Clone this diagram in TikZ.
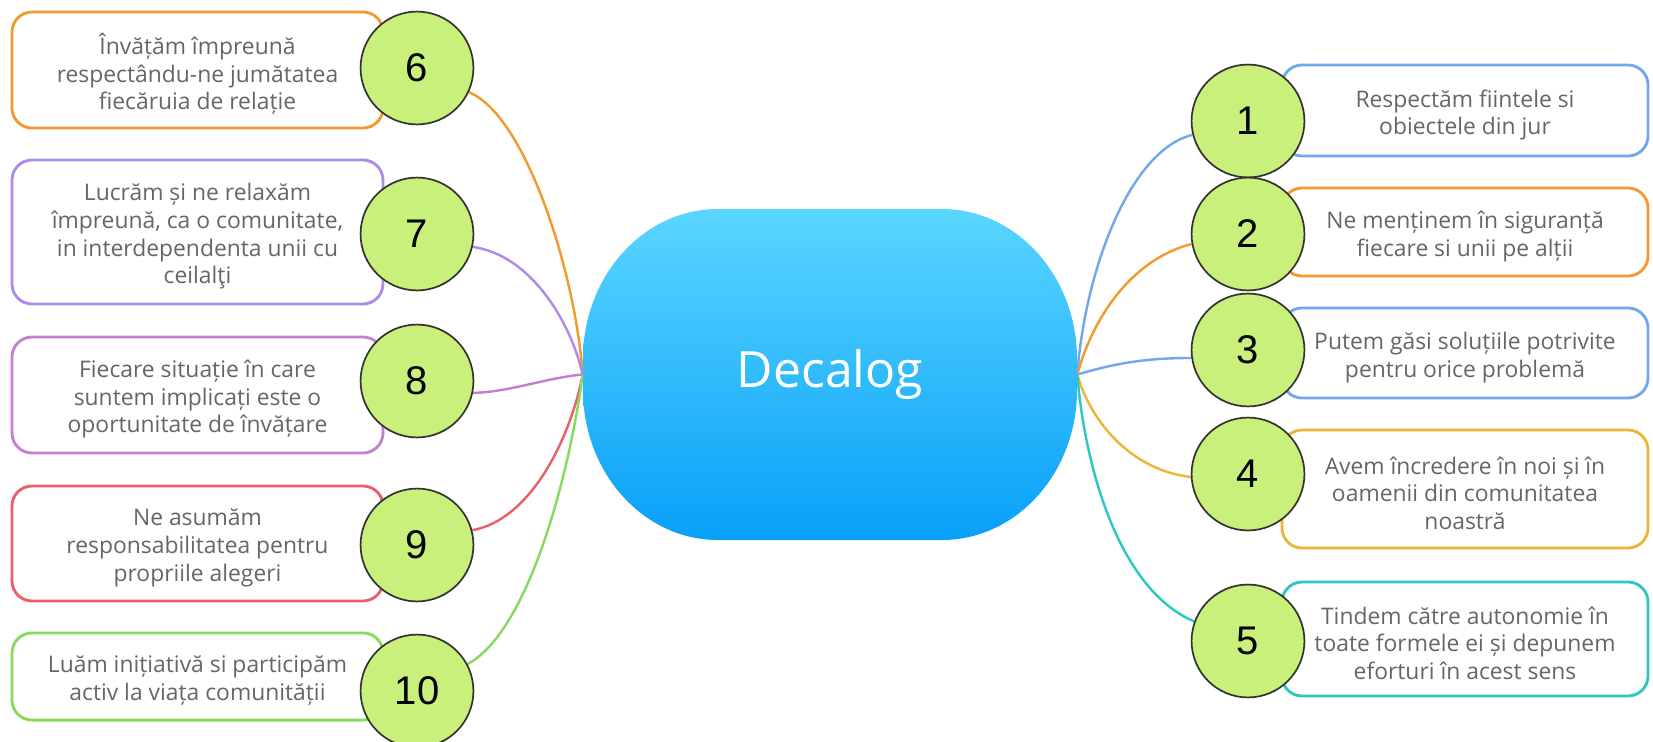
\documentclass[tikz,border=0pt]{standalone}
\usepackage{fontspec}
\setmainfont{Open Sans}
\newfontfamily\arialf{Liberation Sans}
\usetikzlibrary{backgrounds}
\definecolor{txtgray}{HTML}{666666}
\definecolor{corange}{HTML}{F29A2E}
\definecolor{cpurple}{HTML}{AE8BE6}
\definecolor{cviolet}{HTML}{C47FD0}
\definecolor{cred}{HTML}{E8606A}
\definecolor{cgreen}{HTML}{86DB5E}
\definecolor{cblue}{HTML}{72A7EE}
\definecolor{cyellow}{HTML}{EDB535}
\definecolor{cteal}{HTML}{2CC9C0}
\definecolor{cfill}{HTML}{C8F07A}
\definecolor{ctop}{HTML}{5AD6FF}
\definecolor{cbot}{HTML}{08A0F8}
\tikzset{
  boxnode/.style={draw=#1, line width=2pt, rounded corners=14pt, fill=white,
    inner sep=0pt},
  boxtext/.style={text=txtgray, align=center, inner sep=0pt, yshift=-3pt,
    font=\fontsize{16}{19.3}\selectfont},
  numnode/.style={circle, draw=black!80, line width=1.2pt, fill=cfill,
    minimum size=79pt, inner sep=0pt, font=\arialf\fontsize{28}{28}\selectfont},
  link/.style={draw=#1, line width=1.7pt},
}
\begin{document}
\begin{tikzpicture}[x=0.7pt,y=-0.7pt]
\useasboundingbox (0,0) rectangle (1653,741);
% central node
\shade[top color=ctop, bottom color=cbot]
  (718,209) -- (942,209)
  arc[start angle=90, end angle=0, x radius=94.5pt, y radius=105pt]
  -- (1077,390)
  arc[start angle=0, end angle=-90, x radius=94.5pt, y radius=105pt]
  -- (718,540)
  arc[start angle=-90, end angle=-180, x radius=94.5pt, y radius=105pt]
  -- (583,359)
  arc[start angle=180, end angle=90, x radius=94.5pt, y radius=105pt]
  -- cycle;
\node[minimum width=345.8pt, minimum height=231.7pt, inner sep=0pt, text=white,
  font=\fontsize{35}{35}\selectfont] (center) at (830,374.5) {Decalog};
% left boxes
\node[boxnode=corange, minimum width=259.7pt, minimum height=81.2pt,
  label={[boxtext]center:{Învățăm împreună\\respectându-ne jumătatea\\fiecăruia de relație}}] (b6) at (197.5,70) {};
\node[boxnode=cpurple, minimum width=259.7pt, minimum height=100.8pt,
  label={[boxtext]center:{Lucrăm și ne relaxăm\\împreună, ca o comunitate,\\in interdependenta unii cu\\ceilalţi}}] (b7) at (197.5,232) {};
\node[boxnode=cviolet, minimum width=259.7pt, minimum height=81.2pt,
  label={[boxtext]center:{Fiecare situație în care\\suntem implicați este o\\oportunitate de învățare}}] (b8) at (197.5,395) {};
\node[boxnode=cred, minimum width=259.7pt, minimum height=80.5pt,
  label={[boxtext]center:{Ne asumăm\\responsabilitatea pentru\\propriile alegeri}}] (b9) at (197.5,543.5) {};
\node[boxnode=cgreen, minimum width=259.7pt, minimum height=61pt,
  label={[boxtext]center:{Luăm inițiativă si participăm\\activ la viața comunității}}] (b10) at (197.5,676.5) {};
% right boxes
\node[boxnode=cblue, minimum width=256.2pt, minimum height=63.7pt,
  label={[boxtext]center:{Respectăm fiintele si\\obiectele din jur}}] (b1) at (1465,110.5) {};
\node[boxnode=corange, minimum width=256.2pt, minimum height=61.6pt,
  label={[boxtext]center:{Ne menținem în siguranță\\fiecare si unii pe alții}}] (b2) at (1465,232) {};
\node[boxnode=cblue, minimum width=256.2pt, minimum height=63pt,
  label={[boxtext]center:{Putem găsi soluțiile potrivite\\pentru orice problemă}}] (b3) at (1465,353) {};
\node[boxnode=cyellow, minimum width=256.2pt, minimum height=82.6pt,
  label={[boxtext]center:{Avem încredere în noi și în\\oamenii din comunitatea\\noastră}}] (b4) at (1465,489) {};
\node[boxnode=cteal, minimum width=256.2pt, minimum height=79.8pt,
  label={[boxtext]center:{Tindem către autonomie în\\toate formele ei și depunem\\eforturi în acest sens}}] (b5) at (1465,639) {};
% number circles
\node[numnode] (c6) at (417,68) {6};
\node[numnode] (c7) at (417,234) {7};
\node[numnode] (c8) at (417,381) {8};
\node[numnode] (c9) at (417,545) {9};
\node[numnode] (c10) at (417,691) {10};
\node[numnode] (c1) at (1248,121) {1};
\node[numnode] (c2) at (1248,234) {2};
\node[numnode] (c3) at (1248,350) {3};
\node[numnode] (c4) at (1248,474) {4};
\node[numnode] (c5) at (1248,641) {5};
% connectors
\begin{scope}[on background layer]
\fill[white] (0,0) rectangle (1653,741);
\draw[link=corange] (c6.-25) .. controls (525,115) and (575,270) .. (center.west);
\draw[link=cpurple] (c7.-13) .. controls (530,255) and (570,320) .. (center.west);
\draw[link=cviolet] (c8.-12) .. controls (510,392) and (545,378) .. (center.west);
\draw[link=cred] (c9.15) .. controls (530,520) and (570,440) .. (center.west);
\draw[link=cgreen] (c10.28) .. controls (530,630) and (570,470) .. (center.west);
\draw[link=cblue] (c1.194) .. controls (1130,150) and (1085,270) .. (center.east);
\draw[link=corange] (c2.190) .. controls (1130,260) and (1092,320) .. (center.east);
\draw[link=cblue] (c3.188) .. controls (1140,358) and (1110,365) .. (center.east);
\draw[link=cyellow] (c4.183) .. controls (1130,470) and (1090,420) .. (center.east);
\draw[link=cteal] (c5.160) .. controls (1120,590) and (1085,470) .. (center.east);
\end{scope}
\end{tikzpicture}
\end{document}
